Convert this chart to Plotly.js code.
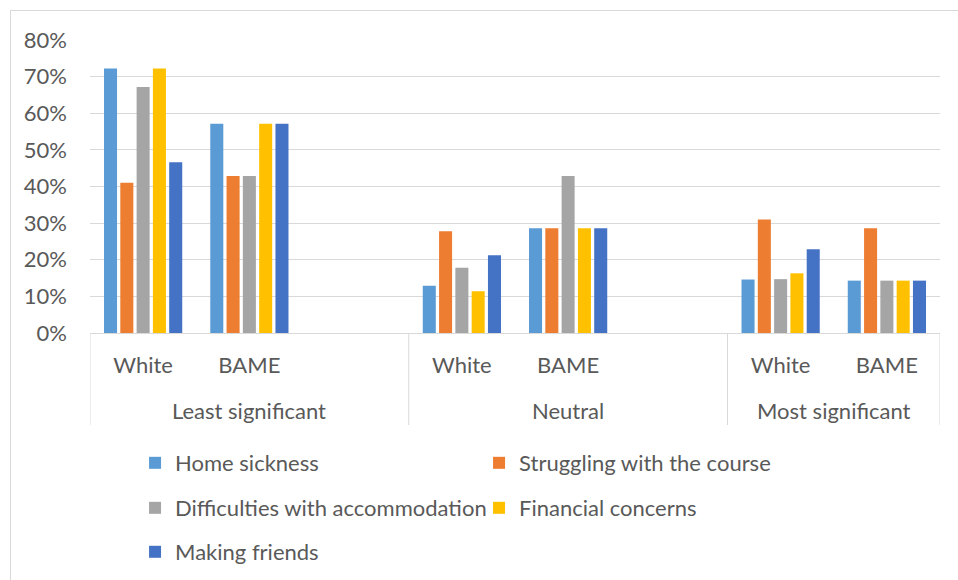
<!DOCTYPE html>
<html>
<head>
<meta charset="utf-8">
<script src="https://cdn.plot.ly/plotly-3.0.1.min.js"></script>
<style>
  html, body { margin: 0; padding: 0; background: #ffffff; overflow: hidden; }
  #frame { position: absolute; left: 10px; top: 10px; width: 960px; height: 580px;
           border-left: 1px solid #d9d9d9; border-top: 1px solid #d9d9d9; }
  #chart { position: absolute; left: 0; top: 0; width: 958px; height: 580px; }
</style>
</head>
<body>
<div id="frame"></div>
<div id="chart"></div>
<script>
// ---- data ----
const groups = ["Least significant", "Neutral", "Most significant"];
const subgroupsPerGroup = [["White", "BAME", ""], ["White", "BAME", ""], ["White", "BAME"]];
const seriesNames = ["Home sickness", "Struggling with the course", "Difficulties with accommodation", "Financial concerns", "Making friends"];
const homeSickness  = [72.2, 57.1, null, 12.9, 28.6, null, 14.6, 14.3];
const struggling    = [41.0, 42.9, null, 27.8, 28.6, null, 31.0, 28.6];
const accommodation = [67.2, 42.9, null, 17.8, 42.9, null, 14.7, 14.3];
const financial     = [72.2, 57.1, null, 11.4, 28.6, null, 16.3, 14.3];
const friends       = [46.6, 57.1, null, 21.2, 28.6, null, 22.9, 14.3];
const yTickVals = [0, 10, 20, 30, 40, 50, 60, 70, 80];
const yTickText = ["0%", "10%", "20%", "30%", "40%", "50%", "60%", "70%", "80%"];

// ---- styles ----
const colors = ["#5B9BD5", "#ED7D31", "#A5A5A5", "#FFC000", "#4472C4"];
const FONT = "Lato, 'Open Sans', sans-serif";
const TXT = "#595959";
const GRID = "#d9d9d9";
const FS = 22;

// build categories
const catIds = [], catText = [], groupSpans = [];
groups.forEach((g, gi) => {
  const start = catIds.length;
  subgroupsPerGroup[gi].forEach((s, si) => { catIds.push(g + "|" + si); catText.push(s); });
  groupSpans.push([start, catIds.length - 1]);
});

const values = [homeSickness, struggling, accommodation, financial, friends];
const legendIds = ["legend", "legend", "legend2", "legend2", "legend3"];
const traces = values.map((v, i) => ({
  type: "bar", name: seriesNames[i], x: catIds, y: v,
  marker: { color: colors[i], line: { width: 0 } },
  legend: legendIds[i], hoverinfo: "name+y"
}));

const annotations = groups.map((g, gi) => ({
  text: g, xref: "x", yref: "paper",
  x: (groupSpans[gi][0] + groupSpans[gi][1]) / 2, y: -0.263,
  xanchor: "center", yanchor: "middle", showarrow: false,
  font: { family: FONT, size: FS, color: TXT }
}));

const dividerX = groupSpans.map(s => s[0] - 0.5).concat([groupSpans[groupSpans.length - 1][1] + 0.5]);
const shapes = dividerX.map(x => ({
  type: "line", xref: "x", yref: "paper", x0: x, x1: x, y0: 0, y1: -0.314,
  line: { color: GRID, width: 1 }
}));

const legendBase = {
  orientation: "h", xanchor: "left", yanchor: "middle", x: 0.053, yref: "container",
  entrywidth: 299, entrywidthmode: "pixels", bgcolor: "rgba(0,0,0,0)",
  font: { family: FONT, size: FS, color: TXT }, traceorder: "normal"
};

const layout = {
  width: 958, height: 580,
  margin: { l: 90, r: 18, t: 40, b: 247, autoexpand: false },
  paper_bgcolor: "rgba(0,0,0,0)", plot_bgcolor: "rgba(0,0,0,0)",
  font: { family: FONT, size: FS, color: TXT },
  barmode: "group", bargap: 0.233, bargroupgap: 0.2,
  showlegend: true,
  xaxis: {
    type: "category", categoryorder: "array", categoryarray: catIds,
    tickvals: catIds, ticktext: catText, range: [-0.5, catIds.length - 0.5],
    showline: true, linecolor: GRID, linewidth: 1, showgrid: false, ticks: "",
    ticklabelstandoff: 13, automargin: false, tickfont: { family: FONT, size: FS, color: TXT }
  },
  yaxis: {
    range: [0, 80], tickmode: "array", tickvals: yTickVals, ticktext: yTickText,
    showgrid: true, gridcolor: GRID, gridwidth: 1, zeroline: false, showline: false,
    ticks: "", ticklabelstandoff: 22, automargin: false, tickfont: { family: FONT, size: FS, color: TXT }
  },
  legend: Object.assign({}, legendBase, { y: 0.2017 }),
  legend2: Object.assign({}, legendBase, { y: 0.1241 }),
  legend3: Object.assign({}, legendBase, { y: 0.0483 }),
  annotations: annotations,
  shapes: shapes
};

Plotly.newPlot("chart", traces, layout, { displayModeBar: false, staticPlot: true });
</script>
</body>
</html>
